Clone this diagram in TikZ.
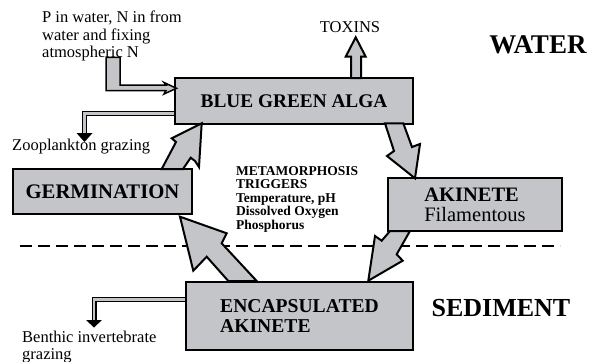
\documentclass[tikz,border=0pt]{standalone}
\usepackage{fontspec}
\setmainfont{Liberation Serif}
\usetikzlibrary{calc}
\definecolor{boxgray}{RGB}{196,197,201}
\newcommand{\fsz}[2]{\fontsize{#1}{#2}\selectfont}
\tikzset{
  stage/.style={draw, line width=2pt, fill=boxgray, inner sep=0pt, align=left, font=\bfseries\fsz{19.3}{20}},
  blockarrow/.style={draw, line width=2pt, fill=boxgray, line join=miter},
  thinarrow/.style={line width=1.2pt, double=boxgray, double distance=2.6pt},
  note/.style={inner sep=0pt, align=left, font=\fsz{16.5}{16.8}}
}

\begin{document}
\begin{tikzpicture}[x=1pt, y=-1pt]
\useasboundingbox (0,0) rectangle (590,362);
% stages
\node[stage, minimum width=238, minimum height=46] (alga) at (294,101) {BLUE GREEN ALGA};
\node[stage, minimum width=179, minimum height=45, font=\bfseries\fsz{20.7}{21}] (germ) at (102.5,191.5) {GERMINATION};
\node[stage, minimum width=174, minimum height=53, font=\bfseries\fsz{20.5}{20}] (akin) at (475,204.5) {AKINETE\\\mdseries Filamentous};
\node[stage, minimum width=227, minimum height=68, font=\bfseries\fsz{19.6}{20}] (encap) at (299.5,316) {ENCAPSULATED\\AKINETE};
% labels
\node[note, anchor=north west, font=\fsz{16.5}{17.2}] (nutr) at (42,11) {P in water, N in from\\water and fixing\\atmospheric N};
\node[note, anchor=west] (zoo) at (12,147) {Zooplankton grazing};
\node[note, anchor=north west] (benthic) at (22,331) {Benthic invertebrate\\grazing};
\node[note] (toxins) at (350,27) {TOXINS};
\node[note, font=\bfseries\fsz{27}{27}] (water) at (538,45) {WATER};
\node[note, font=\bfseries\fsz{26}{26}] (sediment) at (501,308) {SEDIMENT};
\node[note, anchor=north west, font=\bfseries\fsz{13.5}{13.6}] (trig) at (236,166)
  {METAMORPHOSIS\\TRIGGERS\\Temperature, pH\\Dissolved Oxygen\\Phosphorus};
% water / sediment boundary
\draw[line width=2pt, dash pattern=on 12pt off 6pt] (20,246) -- (560,246);
% life cycle
\draw[blockarrow] (201.7,123.3) -- (171.7,138.3) -- (176,142) -- (161.7,169) -- (183,169)
  -- (190.7,157.7) -- (195,161) -- (199,167) -- cycle;
\draw[blockarrow] (385,123.3) -- (394,151) -- (387,156) -- (415,178.3) -- (420,144)
  -- (412,147) -- (403.3,123.3) -- cycle;
\draw[blockarrow] (390,231) -- (381.7,240.7) -- (375,236) -- (368.3,280.7) -- (402.7,260.7)
  -- (396.7,254.3) -- (410,231) -- cycle;
\draw[blockarrow] (180,216.7) -- (226.7,233.3) -- (221.7,243.3) -- (256.7,281) -- (228.3,281)
  -- (206.7,256.7) -- (193.3,270.7) -- cycle;
% toxins out
\draw[blockarrow] (351,78) -- (351,56.7) -- (345.7,56.7) -- (355.7,37.3) -- (365.7,56.7)
  -- (361,56.7) -- (361,78) -- cycle;
% nutrients in
\draw[line width=1.5pt, fill=boxgray, line join=miter] (106,57.3) -- (120,57.3) -- (120,85) -- (166,85)
  -- (164,82.5) -- (176.5,88.3) -- (164,94) -- (166,90.5) -- (106,90.5) -- cycle;
% grazing losses
\draw[thinarrow] (alga.west |- 0,113.5) -| (84.5,133);
\fill (76.5,133) -- (92.5,133) -- (84.5,142) -- cycle;
\draw[thinarrow] (encap.west |- 0,299.5) -| (94,320);
\fill (86,320) -- (102,320) -- (94,327.5) -- cycle;
\end{tikzpicture}
\end{document}
